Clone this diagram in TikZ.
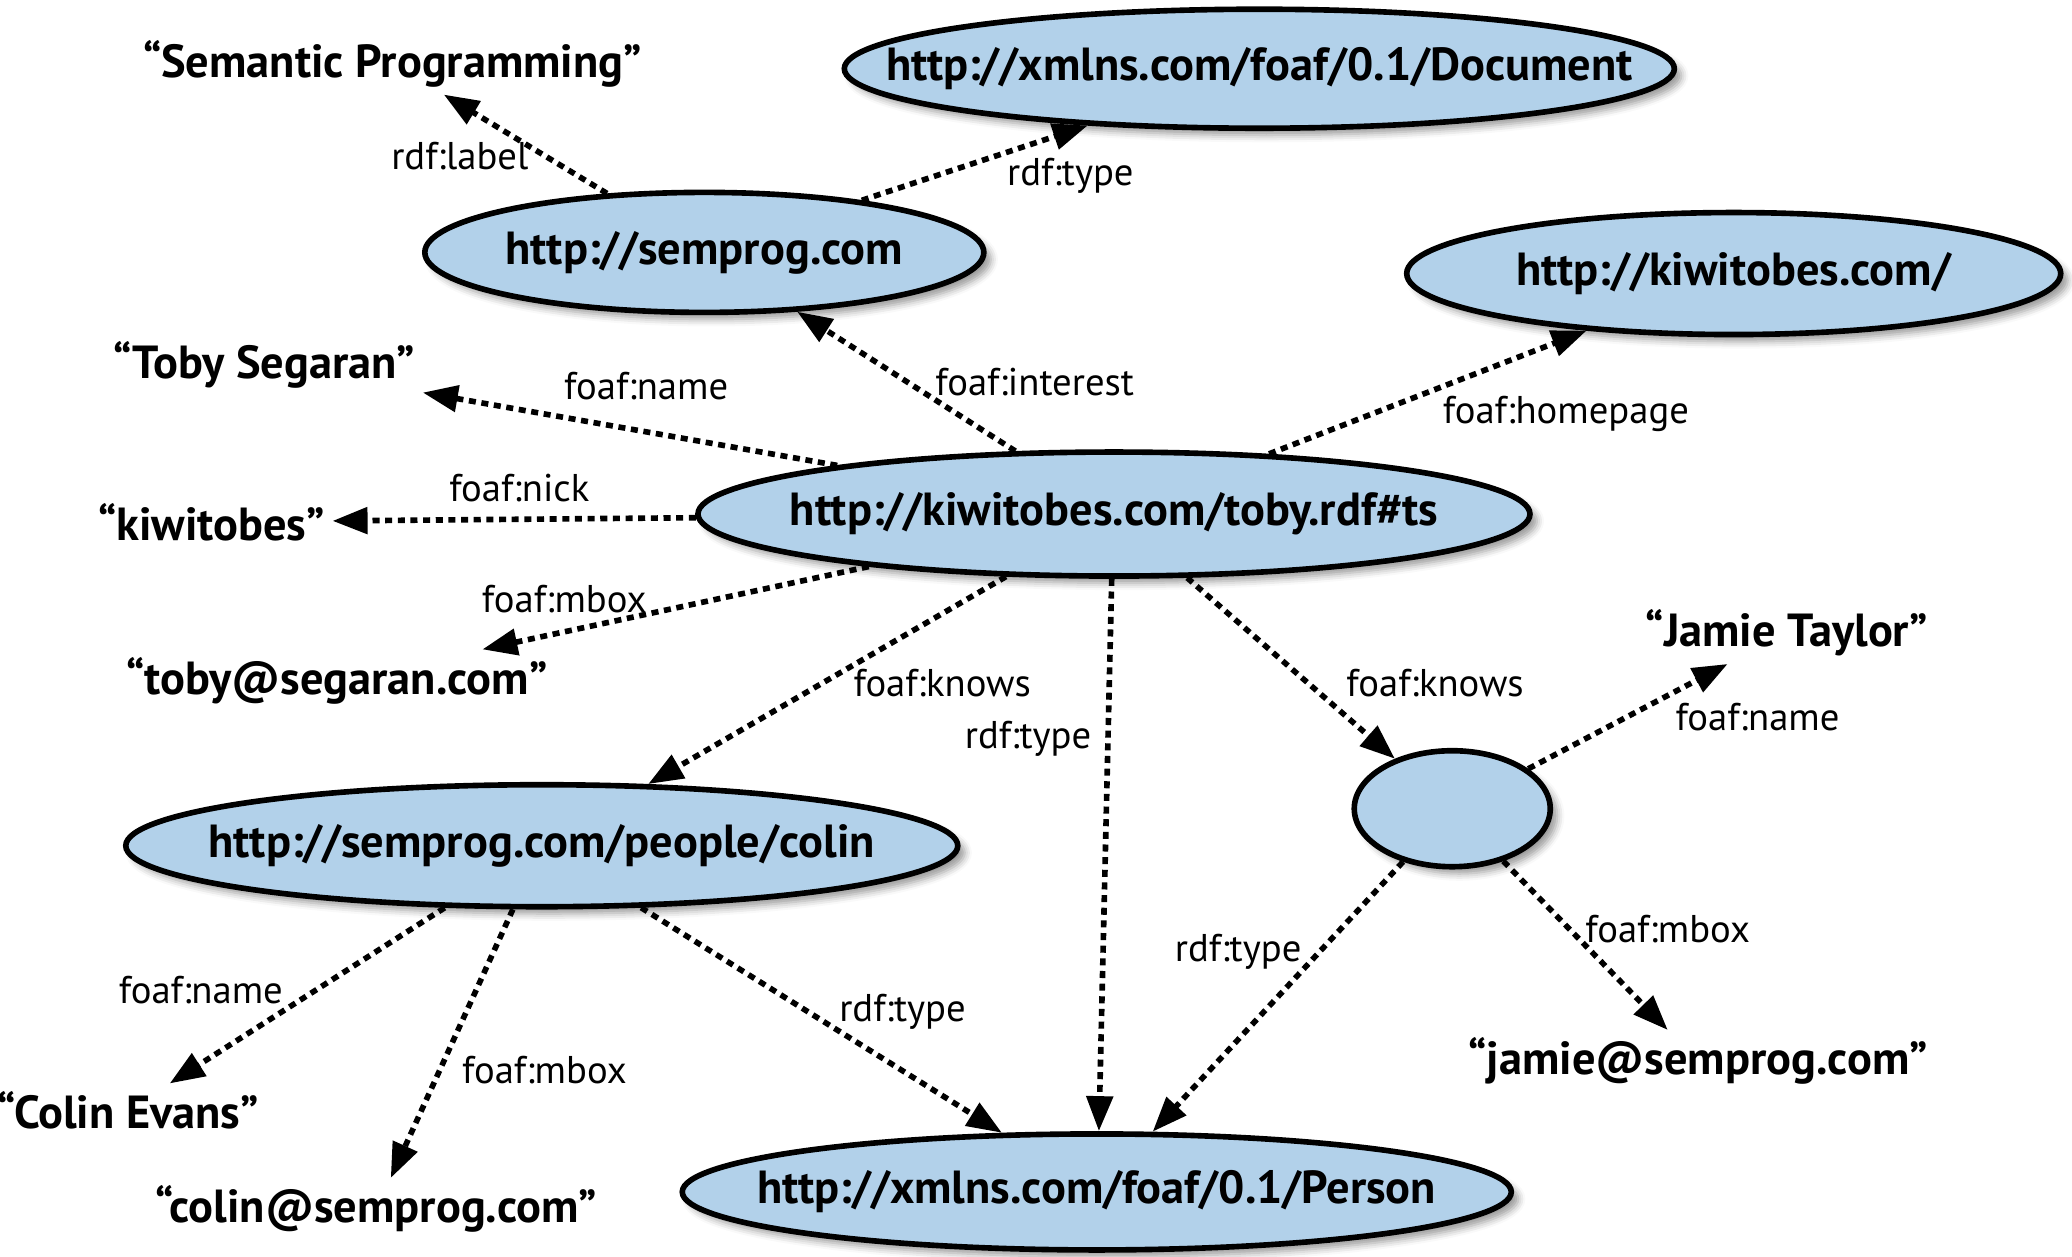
\documentclass[tikz,border=0pt]{standalone}
\usepackage{fontspec}
\setmainfont{PT Sans}
\usepackage{tikz}
\usetikzlibrary{shapes.geometric, arrows.meta, shadows.blur}
\definecolor{cazul}{HTML}{B2D1EA}
\newcommand{\uri}[1]{\makebox[0pt]{#1}}
\tikzset{
  recurso/.style={ellipse, draw=black, fill=cazul, line width=1.6pt, inner sep=0pt,
                  minimum width=#1, minimum height=1.2cm, font=\bfseries\fontsize{13.2}{15}\selectfont,
                  blur shadow={shadow xshift=2pt, shadow yshift=-2pt, shadow blur radius=2pt}},
  literal/.style={inner sep=2pt, font=\bfseries\fontsize{13.2}{15}\selectfont},
  etiqueta/.style={inner sep=1pt, font=\fontsize{11}{13}\selectfont},
  flecha/.style={-{Triangle[length=0.35cm, width=0.26cm]}, line width=1.6pt,
                 dash pattern=on 2pt off 1.6pt},
}

\begin{document}
\begin{tikzpicture}[x=0.013214cm, y=-0.013214cm]
        \useasboundingbox (0,0) rectangle (1568,951);
        % recursos
        \node[recurso=8.3cm, minimum height=1.19cm] (doc) at (953,52) {\uri{http://xmlns.com/foaf/0.1/Document}};
        \node[recurso=5.59cm] (sp) at (533,191) {\uri{http://semprog.com}};
        \node[recurso=6.54cm, minimum height=1.22cm] (kw) at (1312,207) {\uri{http://kiwitobes.com/}};
        \node[recurso=8.32cm, minimum height=1.24cm] (ts) at (843,389) {\uri{http://kiwitobes.com/toby.rdf\#ts}};
        \node[recurso=8.32cm, minimum height=1.22cm] (col) at (410,640) {\uri{http://semprog.com/people/colin}};
        \node[recurso=1.96cm, minimum height=1.16cm] (bn) at (1099,612) {};
        \node[recurso=8.29cm, minimum height=1.16cm] (per) at (830,902) {\uri{http://xmlns.com/foaf/0.1/Person}};
        % literales
        \node[literal] (spl) at (297,48) {“Semantic Programming”};
        \node[literal] (tsn) at (200,276) {“Toby Segaran”};
        \node[literal] (tsk) at (160,395) {“kiwitobes”};
        \node[literal] (tsm) at (255,515) {“toby@segaran.com”};
        \node[literal] (jtn) at (1352,479) {“Jamie Taylor”};
        \node[literal] (jtm) at (1285,803) {“jamie@semprog.com”};
        \node[literal] (cen) at (97,840) {“Colin Evans”};
        \node[literal] (cem) at (285,915) {“colin@semprog.com”};
        % aristas
        \draw[flecha] (sp)--(spl); \draw[flecha] (sp)--(doc);
        \draw[flecha] (ts)--(sp); \draw[flecha] (ts)--(kw);
        \draw[flecha] (ts)--(tsn); \draw[flecha] (ts)--(tsk); \draw[flecha] (ts)--(tsm);
        \draw[flecha] (ts)--(col); \draw[flecha] (ts.-92)--(per.88); \draw[flecha] (ts)--(bn);
        \draw[flecha] (bn)--(jtn); \draw[flecha] (bn)--(per); \draw[flecha] (bn)--(jtm);
        \draw[flecha] (col)--(cen); \draw[flecha] (col)--(cem); \draw[flecha] (col)--(per);
        % etiquetas
        \node[etiqueta] (e1) at (348,118) {rdf:label};
        \node[etiqueta] (e2) at (810,133) {rdf:type};
        \node[etiqueta] (e3) at (783,289) {foaf:interest};
        \node[etiqueta] (e4) at (1185,313) {foaf:homepage};
        \node[etiqueta] (e5) at (489,292) {foaf:name};
        \node[etiqueta] (e6) at (393,369) {foaf:nick};
        \node[etiqueta] (e7) at (427,453) {foaf:mbox};
        \node[etiqueta] (e8) at (713,517) {foaf:knows};
        \node[etiqueta] (e9) at (778,559) {rdf:type};
        \node[etiqueta] (e10) at (1086,517) {foaf:knows};
        \node[etiqueta] (e11) at (1330,543) {foaf:name};
        \node[etiqueta] (e12) at (937,720) {rdf:type};
        \node[etiqueta] (e13) at (1262,703) {foaf:mbox};
        \node[etiqueta] (e14) at (152,749) {foaf:name};
        \node[etiqueta] (e15) at (412,810) {foaf:mbox};
        \node[etiqueta] (e16) at (683,766) {rdf:type};
    \end{tikzpicture}
\end{document}
